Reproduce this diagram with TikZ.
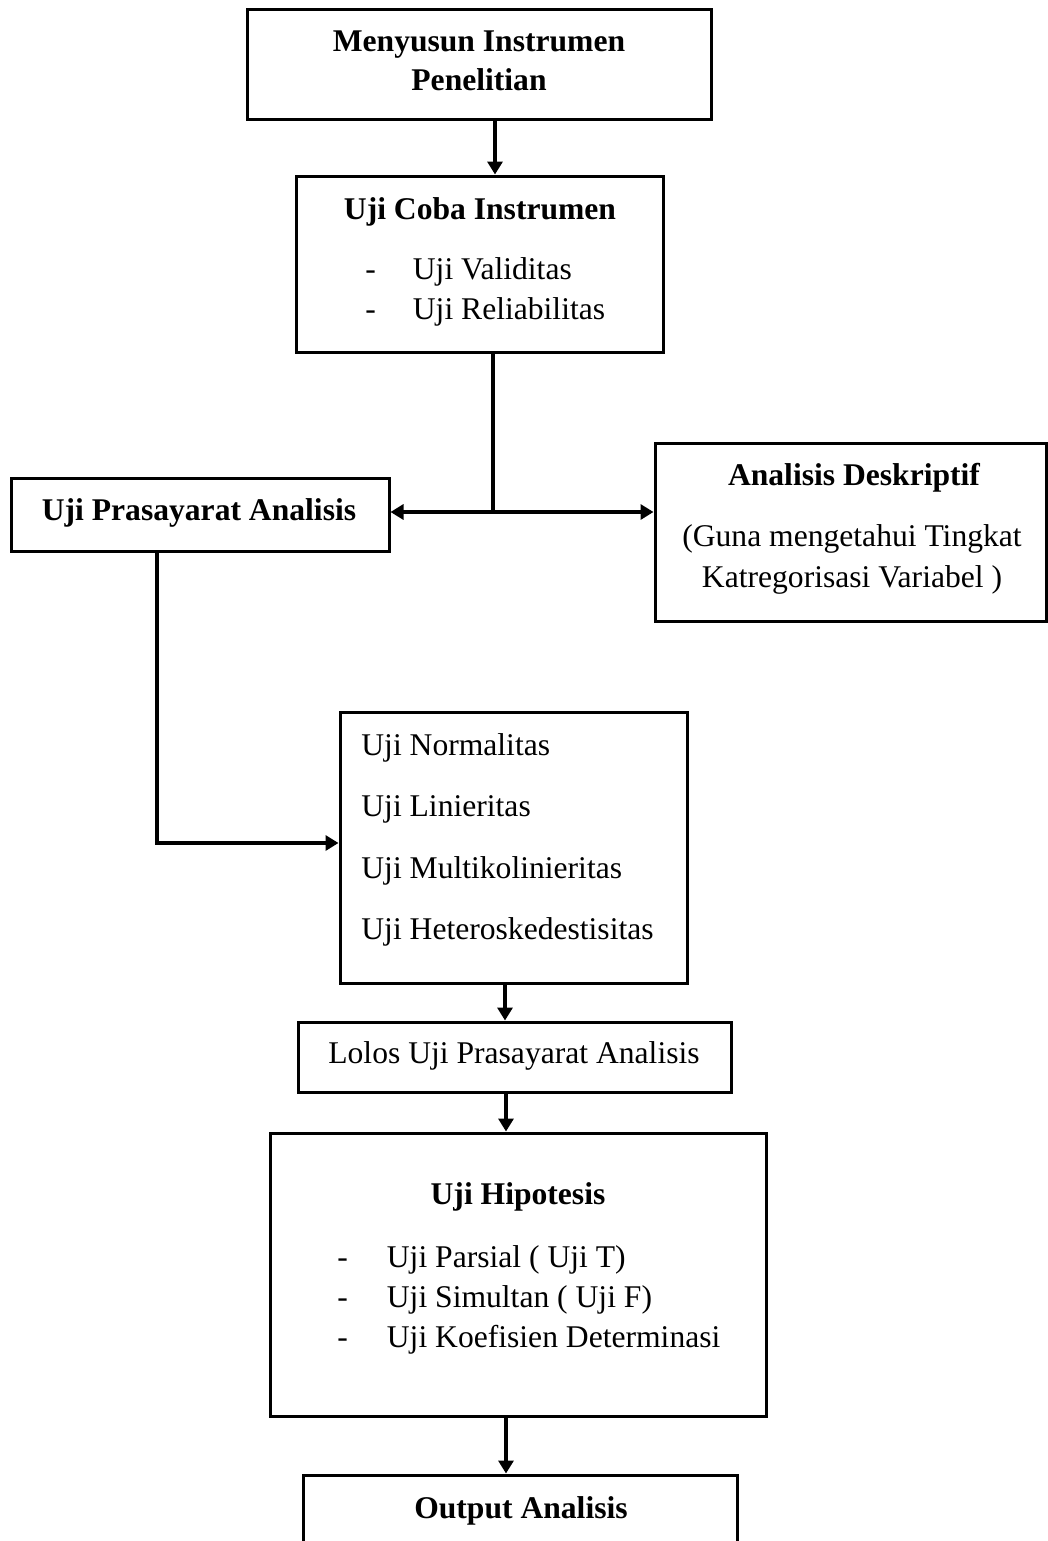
\documentclass[tikz,border=0pt]{standalone}
\usepackage{fontspec}
\setmainfont{Liberation Serif}
\usetikzlibrary{arrows.meta,fit}

\tikzset{
  box/.style={draw, line width=1.5pt, inner sep=0pt},
  txt/.style={inner sep=0pt, font=\fontsize{15.8}{20}\selectfont},
  btxt/.style={inner sep=0pt, font=\fontsize{15.8}{20}\selectfont\bfseries},
  arr/.style={line width=2pt, -{Triangle[length=6.5pt,width=7.5pt]}},
}

\begin{document}
\begin{tikzpicture}[x=0.5pt,y=-0.5pt]
\clip (0,0) rectangle (1048,1541);
% boxes
\node[box, fit={(247,10) (711,120)}] (menyusun) {};
\node[box, fit={(296,176) (663,352)}] (coba) {};
\node[box, fit={(11,478) (389,551)}] (prasyarat) {};
\node[box, fit={(655,443) (1046,621)}] (deskriptif) {};
\node[box, fit={(340,712) (687,983)}] (asumsi) {};
\node[box, fit={(298,1022) (731,1092)}] (lolos) {};
\node[box, fit={(270,1133) (766,1416)}] (hipotesis) {};
\node[box, fit={(303,1475) (737,1580)}] (output) {};
% texts
\node[btxt, anchor=base] (t-menyusun) at (479,52)
  {\begin{tabular}[t]{@{}c@{}}Menyusun Instrumen\\[-0.5pt]Penelitian\end{tabular}};
\node[btxt, anchor=base] (t-coba) at (480,219) {Uji Coba Instrumen};
\node[txt, anchor=base west] (l-coba) at (365,279)
  {\begin{tabular}[t]{@{}l@{\hspace{18.5pt}}l@{}}-&Uji Validitas\\-&Uji Reliabilitas\end{tabular}};
\node[btxt, anchor=base] (t-prasyarat) at (199,520) {Uji Prasayarat Analisis};
\node[btxt, anchor=base] (t-deskriptif) at (854,485) {Analisis Deskriptif};
\node[txt, anchor=base] (l-deskriptif) at (852,546)
  {\begin{tabular}[t]{@{}c@{}}(Guna mengetahui Tingkat\\[0.5pt]Katregorisasi Variabel )\end{tabular}};
\node[txt, anchor=base west] (l-asumsi) at (361,755)
  {\begin{tabular}[t]{@{}l@{}}Uji Normalitas\\[10.8pt]Uji Linieritas\\[10.8pt]Uji Multikolinieritas\\[10.8pt]Uji Heteroskedestisitas\end{tabular}};
\node[txt, anchor=base] (t-lolos) at (514,1063) {Lolos Uji Prasayarat Analisis};
\node[btxt, anchor=base] (t-hipotesis) at (518,1204) {Uji Hipotesis};
\node[txt, anchor=base west] (l-hipotesis) at (337,1267)
  {\begin{tabular}[t]{@{}l@{\hspace{19.5pt}}l@{}}-&Uji Parsial ( Uji T)\\-&Uji Simultan ( Uji F)\\-&Uji Koefisien Determinasi\end{tabular}};
\node[btxt, anchor=base] (t-output) at (521,1518) {Output Analisis};
% connectors
\draw[arr] ([xshift=8pt]menyusun.south) -- ([xshift=7.75pt]coba.north);
\coordinate (cabang) at (493,512);
\draw[line width=1.6pt] (coba.south -| cabang) -- (cabang);
\draw[arr] (cabang) -- (cabang -| prasyarat.east);
\draw[arr] (cabang) -- (cabang -| deskriptif.west);
\draw[arr] ([xshift=-21.5pt]prasyarat.south) |- ([yshift=2.25pt]asumsi.west);
\draw[arr] ([xshift=-4.25pt]asumsi.south) -- ([xshift=-4.75pt]lolos.north);
\draw[arr] ([xshift=-4.25pt]lolos.south) -- ([xshift=-6pt]hipotesis.north);
\draw[arr] ([xshift=-6pt]hipotesis.south) -- ([xshift=-7pt]output.north);
\end{tikzpicture}
\end{document}
